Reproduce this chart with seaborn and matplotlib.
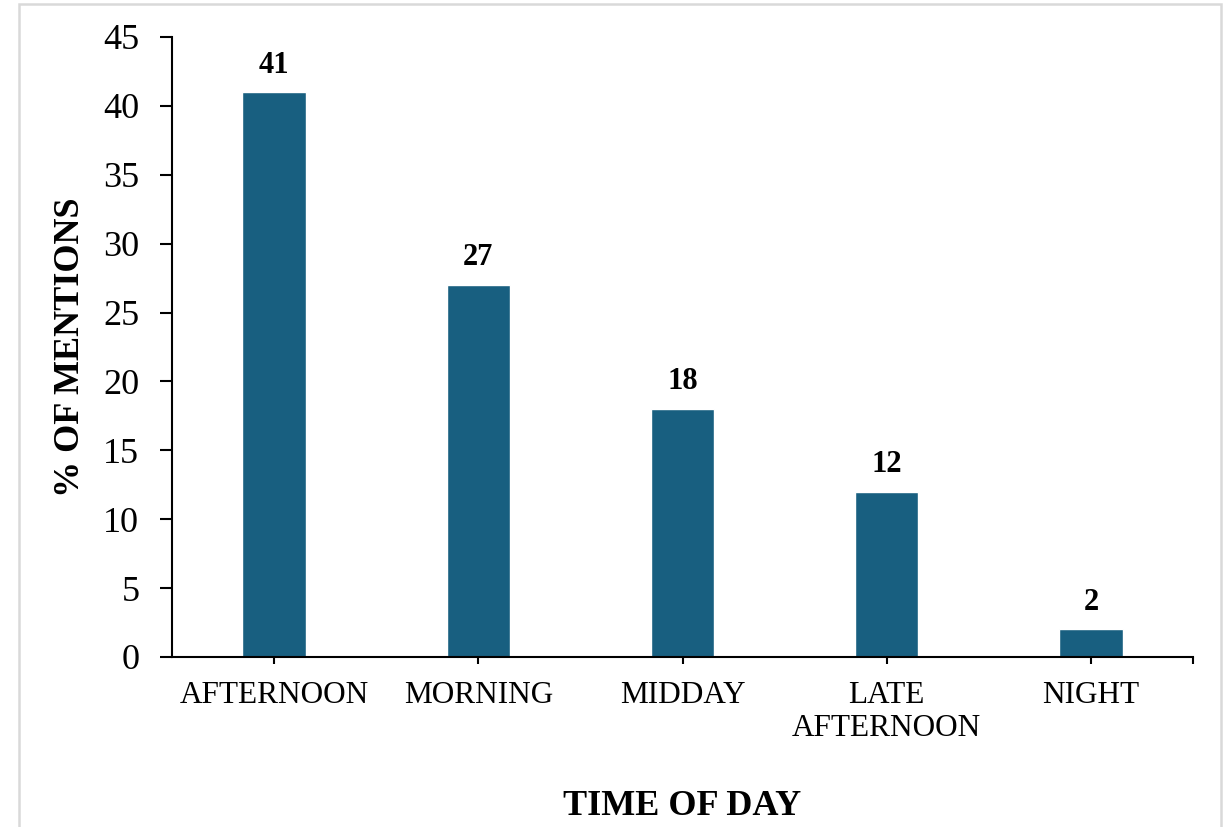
import matplotlib
matplotlib.use("Agg")
import matplotlib.pyplot as plt
import seaborn as sns
import pandas as pd
from matplotlib.patches import Rectangle

# Share of mentions by time of day
categories = ["AFTERNOON", "MORNING", "MIDDAY", "LATE\nAFTERNOON", "NIGHT"]
mentions = [41, 27, 18, 12, 2]
y_ticks = [0, 5, 10, 15, 20, 25, 30, 35, 40, 45]

df = pd.DataFrame({"time": categories, "pct": mentions})

sns.set_theme(style="white")
plt.rcParams["font.family"] = ["Liberation Serif", "DejaVu Serif"]

fig = plt.figure(figsize=(12.24, 8.27), dpi=100)
ax = fig.add_axes([0.1405, 0.2056, 0.8342, 0.7497])

sns.barplot(data=df, x="time", y="pct", color="#185f80", width=0.31,
            saturation=1, ax=ax)

ax.bar_label(ax.containers[0], labels=[str(v) for v in mentions],
             padding=9, fontsize=22, fontweight="bold", color="black")

ax.set_ylim(0, 45)
ax.set_yticks(y_ticks)
ax.set_xlim(-0.5, len(categories) - 0.5)
ax.set_xticks([len(categories) - 0.5], minor=True)

ax.tick_params(axis="y", which="major", direction="out", length=8.5, width=1.5,
               labelsize=26, pad=15, left=True, colors="black")
ax.tick_params(axis="x", which="both", direction="out", length=5, width=1.5,
               labelsize=22.5, pad=12, bottom=True, colors="black")
for lab in ax.get_xticklabels():
    lab.set_linespacing(1.2)

for side in ["top", "right"]:
    ax.spines[side].set_visible(False)
for side in ["left", "bottom"]:
    ax.spines[side].set_color("black")
    ax.spines[side].set_linewidth(1.5)

ax.set_xlabel("TIME OF DAY", fontsize=26, fontweight="bold", labelpad=34,
              color="black")
ax.set_ylabel("% OF MENTIONS", fontsize=26, fontweight="bold", labelpad=12,
              color="black")

# light frame around the chart area
fig.patches.append(Rectangle((19 / 1224, -0.05), (1221 - 19) / 1224, 1.05 - 4 / 827,
                             transform=fig.transFigure, fill=False,
                             edgecolor="#d9d9d9", linewidth=1.8, zorder=0))

fig.savefig("out.png", dpi=100)
